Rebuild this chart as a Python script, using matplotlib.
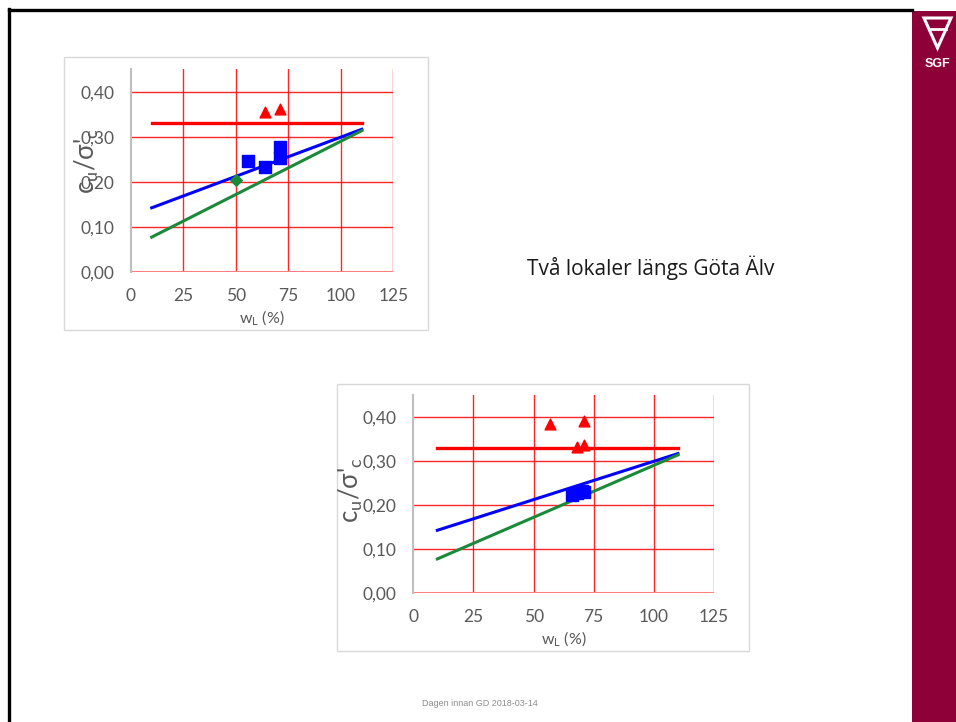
import matplotlib
matplotlib.use("Agg")
import matplotlib.pyplot as plt
from matplotlib.patches import Rectangle, Polygon

# Reference lines (wL in %, cu/sigma'c)
line_x = [10, 110]
red_line_y = [0.33, 0.33]
blue_line_y = [0.143, 0.317]
green_line_y = [0.078, 0.314]

# Chart 1 - first site
c1_tri_x = [64, 71]
c1_tri_y = [0.355, 0.363]
c1_sq_x = [56, 64, 71, 71]
c1_sq_y = [0.246, 0.233, 0.278, 0.253]
c1_dia_x = [50]
c1_dia_y = [0.205]

# Chart 2 - second site
c2_tri_x = [57, 71, 68, 71]
c2_tri_y = [0.385, 0.391, 0.332, 0.336]
c2_sq_x = [66, 68, 70, 71]
c2_sq_y = [0.222, 0.228, 0.233, 0.229]

x_ticks = [0, 25, 50, 75, 100, 125]
y_ticks = [0.0, 0.1, 0.2, 0.3, 0.4]
y_tick_labels = ["0,00", "0,10", "0,20", "0,30", "0,40"]

W, H = 956, 722
fig = plt.figure(figsize=(W / 100, H / 100), dpi=100)
plt.rcParams['font.family'] = ['Lato', 'DejaVu Sans']


def fx(px):
    return px / W


def fy(py):
    return 1 - py / H


# slide frame
fig.add_artist(plt.Line2D([fx(9), fx(912)], [fy(10), fy(10)], color='black', lw=2.4))
fig.add_artist(plt.Line2D([fx(9), fx(9)], [fy(9), fy(722)], color='black', lw=2.4))
fig.add_artist(Rectangle((fx(912), 0), fx(44), fy(11), transform=fig.transFigure,
                         facecolor='#8E0038', edgecolor='none'))
# logo
tri = Polygon([[fx(924), fy(18)], [fx(951), fy(18)], [fx(937.5), fy(48)]], closed=True,
              transform=fig.transFigure, facecolor='none', edgecolor='white', lw=2.2)
fig.add_artist(tri)
fig.add_artist(plt.Line2D([fx(929), fx(946)], [fy(29), fy(29)], color='white', lw=2))
fig.text(fx(937.5), fy(64), "SGF", color='white', fontsize=9, fontweight='bold',
         family='Liberation Sans', ha='center', va='center')


def make_chart(box, area, tri_x, tri_y, sq_x, sq_y, dia_x=None, dia_y=None, label_xy=None):
    bx0, by0, bx1, by1 = box
    fig.add_artist(Rectangle((fx(bx0), fy(by1)), fx(bx1 - bx0), fy(by0) - fy(by1),
                             transform=fig.transFigure, facecolor='white',
                             edgecolor='#D9D9D9', lw=1, zorder=-5))
    ax0, ay0, ax1, ay1 = area
    ax = fig.add_axes([fx(ax0), fy(ay1), fx(ax1 - ax0), fy(ay0) - fy(ay1)])
    ax.patch.set_alpha(0)
    ax.set_xlim(0, 125)
    ax.set_ylim(0, 0.45)
    for s in ['top', 'right', 'bottom']:
        ax.spines[s].set_visible(False)
    ax.spines['left'].set_color('#BFBFBF')
    ax.spines['left'].set_linewidth(1.5)
    for xv in x_ticks[1:]:
        ax.axvline(xv, color='#FF0000', lw=1, alpha=0.85, zorder=1)
    for yv in y_ticks[1:]:
        ax.axhline(yv, color='#FF0000', lw=1, alpha=0.85, zorder=1)
    ax.axhline(0, color='#FF7F7F', lw=1.5, zorder=1)

    ax.plot(line_x, red_line_y, color='#FF0000', lw=2.4, zorder=3)
    ax.plot(line_x, blue_line_y, color='#0000FF', lw=2.2, zorder=3)
    ax.plot(line_x, green_line_y, color='#1A8A3A', lw=2.2, zorder=3)
    ax.scatter(tri_x, tri_y, marker='^', s=60, color='#FF0000', zorder=4)
    ax.scatter(sq_x, sq_y, marker='s', s=75, color='#0000FF', zorder=4)
    if dia_x:
        ax.scatter(dia_x, dia_y, marker='D', s=35, color='#1A8A3A', zorder=4)

    ax.set_xticks(x_ticks)
    ax.set_yticks(y_ticks)
    ax.set_yticklabels(y_tick_labels)
    ax.tick_params(length=0, labelsize=12.5, colors='#595959')
    ax.tick_params(axis='x', pad=11)
    ax.tick_params(axis='y', pad=12)
    ax.set_xlabel(r"$\mathregular{w_L}$ (%)", fontsize=11.5, color='#595959', labelpad=3)
    ax.set_ylabel(r"$\mathregular{c_u/\sigma}$'$\mathregular{_c}$", fontsize=18.5,
                  color='#595959')
    ax.yaxis.set_label_coords(*label_xy)
    return ax


make_chart((64, 57, 428, 330), (130.7, 69.3, 393.3, 272.3),
           c1_tri_x, c1_tri_y, c1_sq_x, c1_sq_y, c1_dia_x, c1_dia_y,
           label_xy=(-0.115, 0.55))
make_chart((337, 384, 749, 651), (413.3, 395, 714, 593.3),
           c2_tri_x, c2_tri_y, c2_sq_x, c2_sq_y,
           label_xy=(-0.16, 0.52))

fig.text(fx(527), fy(268), "Två lokaler längs Göta Älv", fontsize=15,
         family=['Open Sans', 'DejaVu Sans'], color='#1A1A1A', va='center')
fig.text(fx(480), fy(704), "Dagen innan GD 2018-03-14", fontsize=6.5,
         family='Liberation Sans', color='#8C8C8C', ha='center', va='center')

fig.savefig("out.png", dpi=100)
